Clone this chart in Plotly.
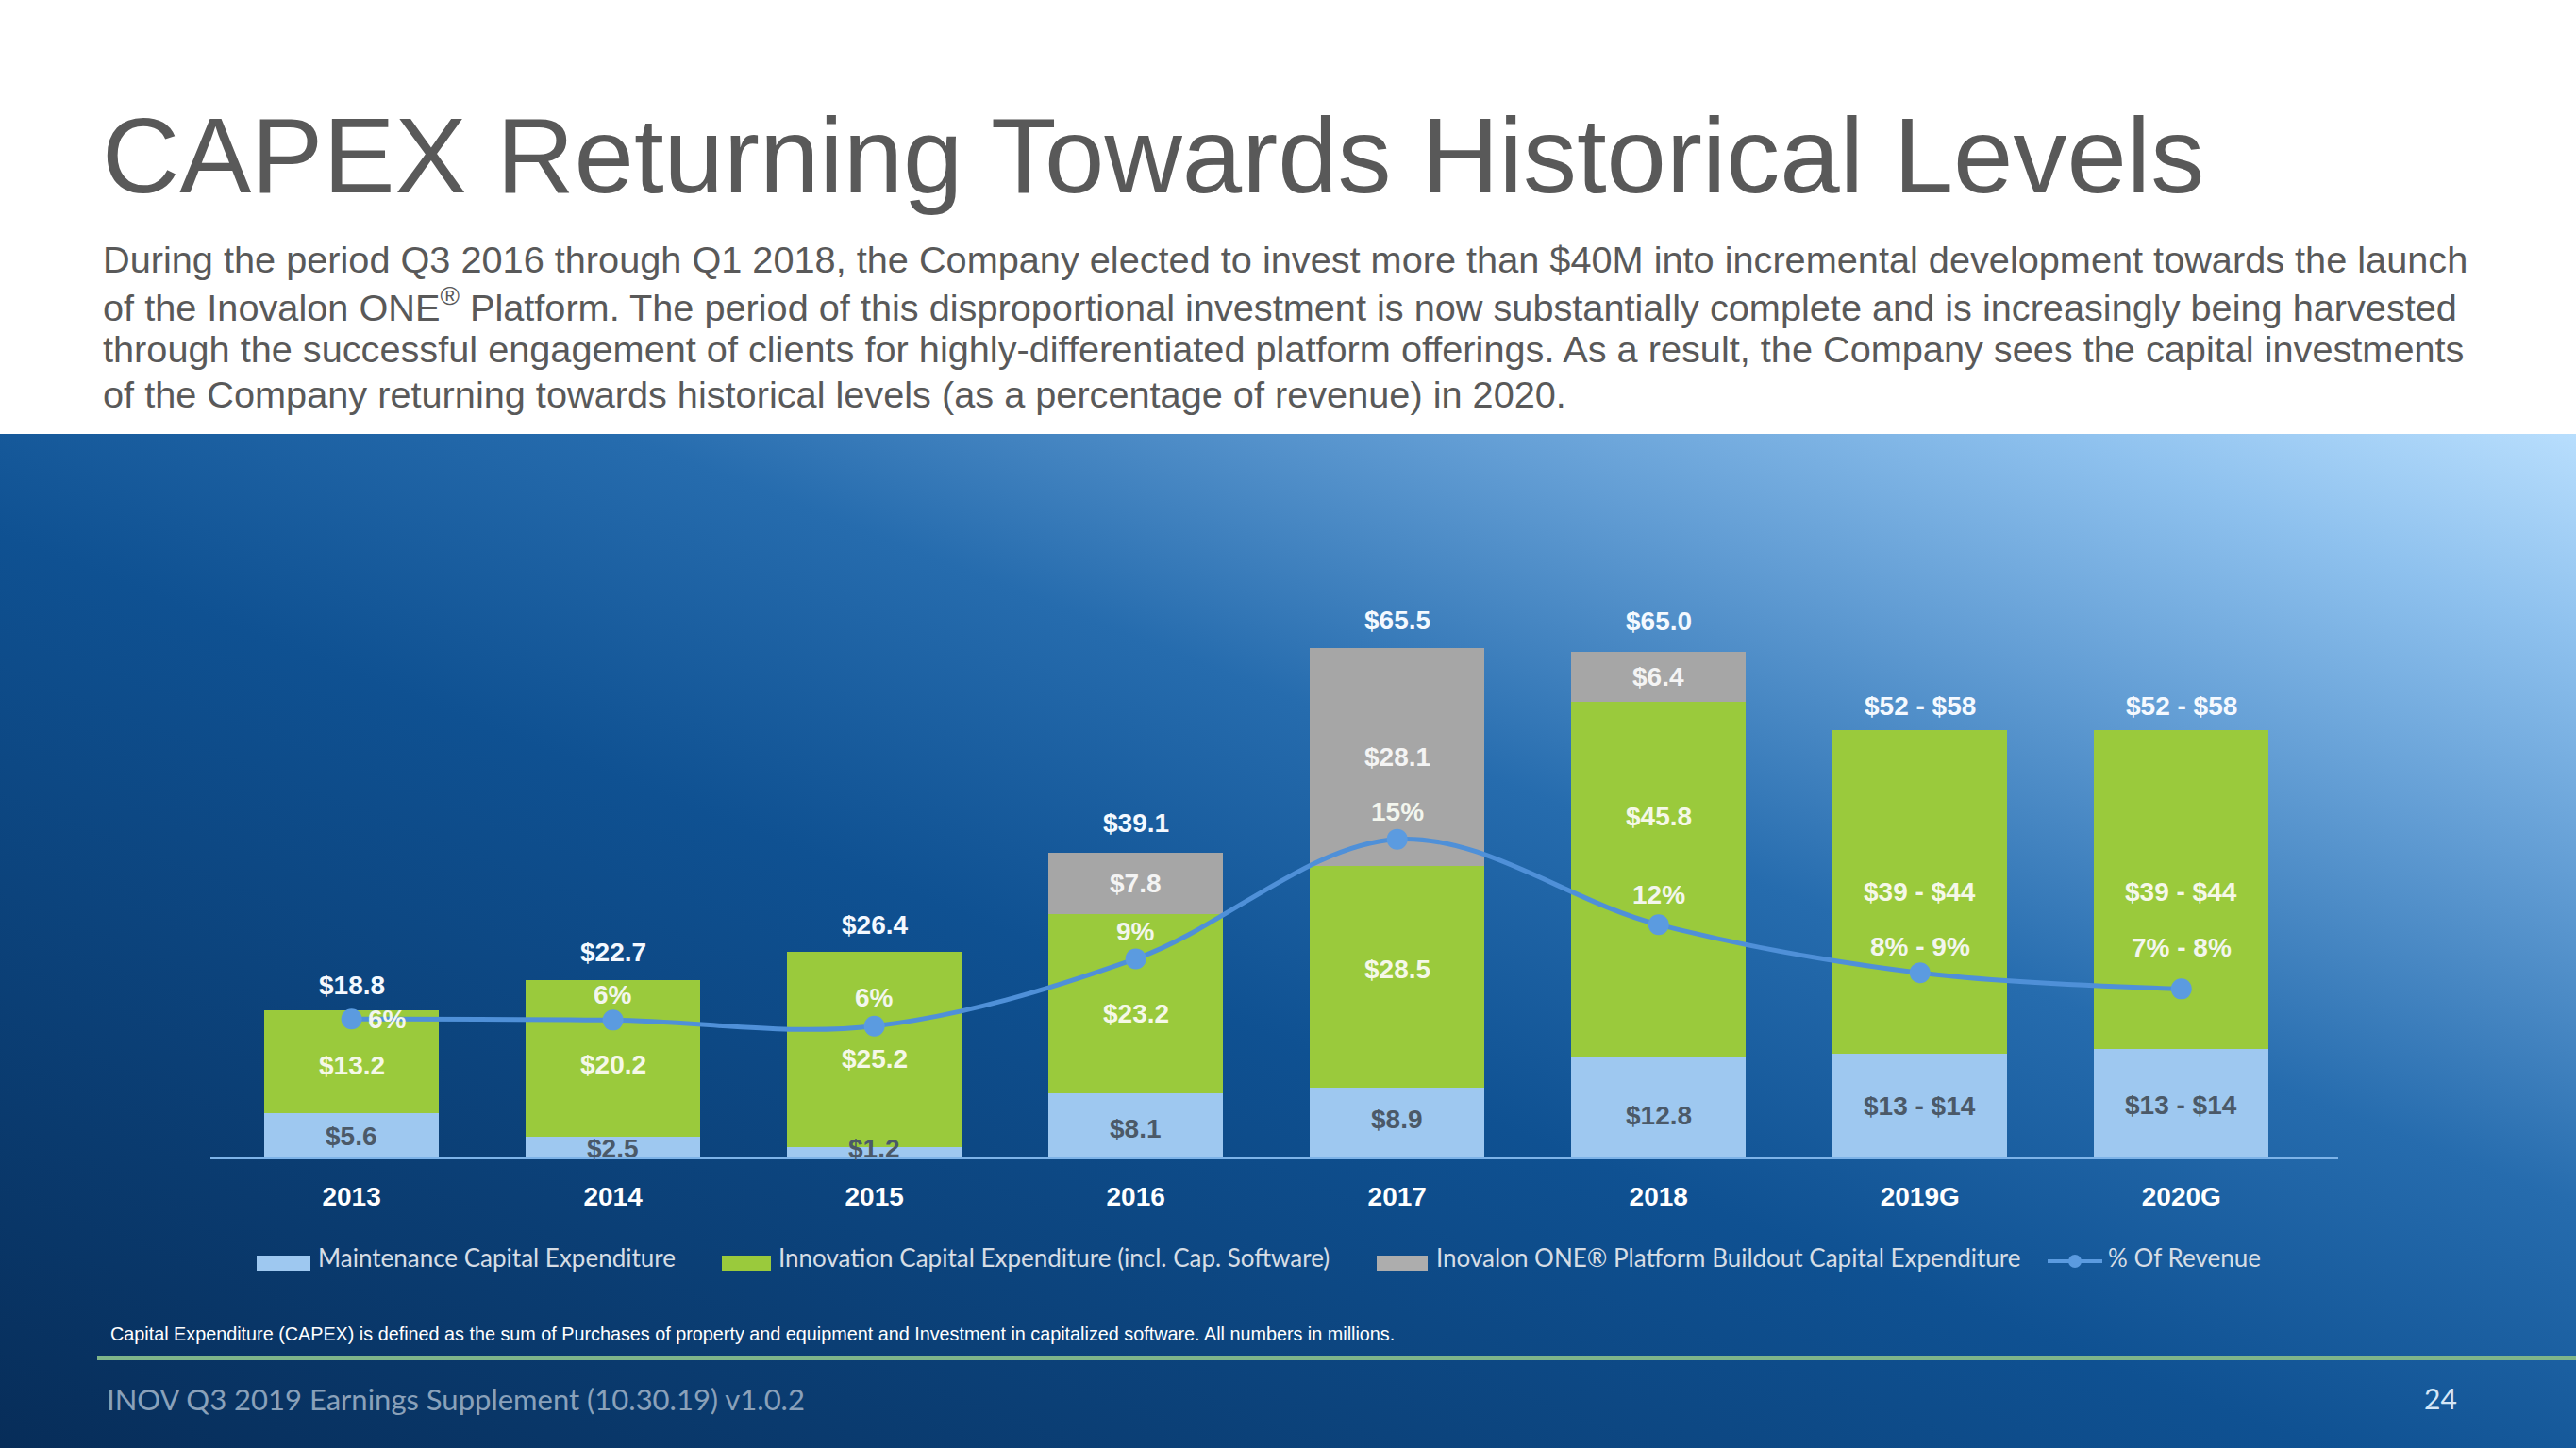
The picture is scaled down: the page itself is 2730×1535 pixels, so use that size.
import base64
import plotly.graph_objects as go

# ---------------- data ----------------
years = ["2013", "2014", "2015", "2016", "2017", "2018", "2019G", "2020G"]
maintenance = [5.6, 2.5, 1.2, 8.1, 8.9, 12.8, 13.3, 13.9]
innovation = [13.2, 20.2, 25.2, 23.2, 28.5, 45.8, 41.7, 41.1]
platform = [None, None, None, 7.8, 28.1, 6.4, None, None]
pct_revenue = [5.9, 5.85, 5.55, 8.9, 14.85, 10.6, 8.2, 7.4]

total_labels = ["$18.8", "$22.7", "$26.4", "$39.1", "$65.5", "$65.0", "$52 - $58", "$52 - $58"]
maint_labels = ["$5.6", "$2.5", "$1.2", "$8.1", "$8.9", "$12.8", "$13 - $14", "$13 - $14"]
innov_labels = ["$13.2", "$20.2", "$25.2", "$23.2", "$28.5", "$45.8", "$39 - $44", "$39 - $44"]
platform_labels = ["", "", "", "$7.8", "$28.1", "$6.4", "", ""]
pct_labels = ["6%", "6%", "6%", "9%", "15%", "12%", "8% - 9%", "7% - 8%"]

series_names = ["Maintenance Capital Expenditure",
                "Innovation Capital Expenditure (incl. Cap. Software)",
                "Inovalon ONE® Platform Buildout Capital Expenditure",
                "% Of Revenue"]

# label nudges (pixels) as placed on the original slide
total_nudge = [27, 30, 28, 32, 30, 33, 25, 25]
innov_nudge = [-4, -6, -10, -11, 8, 67, 0, -3]
maint_nudge = [-2, -2, 4, -4, 3, -9, -1, -3]
pct_nudge = [0, 27, 30, 29, 29, 32, 28, 44]

# ---------------- styling ----------------
W, H = 2730, 1535
ML, MR, MT, MB = 223, 252, 568, 309
PW, PH = W - ML - MR, H - MT - MB
BASE_Y = H - MB

GREEN = "#9ACA3C"
GRAY = "#A6A6A6"
MAINT = "#9EC8F0"
LINE = "#4F90D8"
ARIAL = "Liberation Sans, Arial, sans-serif"
CAL = "Lato, Open Sans, sans-serif"


def px_x(X):
    return (X - ML) / PW


def px_y(Y):
    return (BASE_Y - Y) / PH


fig = go.Figure()
fig.add_trace(go.Bar(x=years, y=maintenance, name=series_names[0],
                     marker=dict(color=MAINT, line=dict(width=0)), width=0.668))
fig.add_trace(go.Bar(x=years, y=innovation, name=series_names[1],
                     marker=dict(color=GREEN, line=dict(width=0)), width=0.668))
fig.add_trace(go.Bar(x=years, y=platform, name=series_names[2],
                     marker=dict(color=GRAY, line=dict(width=0)), width=0.668))
fig.add_trace(go.Scatter(x=years, y=pct_revenue, name=series_names[3], yaxis="y2",
                         mode="lines+markers",
                         line=dict(color=LINE, width=5, shape="spline", smoothing=1),
                         marker=dict(color="#5B9BE0", size=22)))

ann = []
lab_font = dict(family=ARIAL, size=28)
for i, yr in enumerate(years):
    m = maintenance[i]
    g = innovation[i]
    p = platform[i] or 0
    tot = m + g + p
    ann.append(dict(x=i, y=tot, xref="x", yref="y", text="<b>%s</b>" % total_labels[i],
                    showarrow=False, yanchor="middle", yshift=total_nudge[i],
                    font=dict(lab_font, color="#F4F9FF")))
    ann.append(dict(x=i, y=m + g / 2, xref="x", yref="y", text="<b>%s</b>" % innov_labels[i],
                    showarrow=False, yanchor="middle", yshift=innov_nudge[i],
                    font=dict(lab_font, color="#F5F8E8")))
    ann.append(dict(x=i, y=m / 2, xref="x", yref="y", text="<b>%s</b>" % maint_labels[i],
                    showarrow=False, yanchor="middle", yshift=maint_nudge[i],
                    font=dict(lab_font, color="#4B5968")))
    if platform_labels[i]:
        ann.append(dict(x=i, y=m + g + p / 2, xref="x", yref="y", text="<b>%s</b>" % platform_labels[i],
                        showarrow=False, yanchor="middle",
                        font=dict(lab_font, color="#F4F4F4")))
    ann.append(dict(x=i, y=pct_revenue[i], xref="x", yref="y2", text="<b>%s</b>" % pct_labels[i],
                    showarrow=False, yanchor="middle", yshift=pct_nudge[i],
                    xshift=38 if i == 0 else 0,
                    font=dict(lab_font, color="#F3F6EE")))

# title and paragraph
ann.append(dict(x=px_x(106), y=px_y(164), xref="paper", yref="paper", xanchor="left", yanchor="middle",
                text="CAPEX Returning Towards Historical Levels", showarrow=False,
                font=dict(family=ARIAL, size=114, color="#595959")))
para = [
    "During the period Q3 2016 through Q1 2018, the Company elected to invest more than $40M into incremental development towards the launch",
    "of the Inovalon ONE<sup>®</sup> Platform. The period of this disproportional investment is now substantially complete and is increasingly being harvested",
    "through the successful engagement of clients for highly-differentiated platform offerings. As a result, the Company sees the capital investments",
    "of the Company returning towards historical levels (as a percentage of revenue) in 2020.",
]
para_y = [275, 323, 370, 418]
for t, yy in zip(para, para_y):
    ann.append(dict(x=px_x(107), y=px_y(yy), xref="paper", yref="paper", xanchor="left", yanchor="middle",
                    text=t, showarrow=False, font=dict(family=ARIAL, size=39.7, color="#595959")))

# custom legend
shapes = []
leg_y0, leg_y1 = 1331, 1347
leg_txt_y = 1333
swatches = [(272, 329, MAINT, 335), (765, 817, GREEN, 823), (1459, 1513, "#ADADAD", 1520)]
for k, (x0, x1, col, tx) in enumerate(swatches):
    shapes.append(dict(type="rect", xref="paper", yref="paper", x0=px_x(x0), x1=px_x(x1),
                       y0=px_y(leg_y1), y1=px_y(leg_y0), fillcolor=col, line=dict(width=0)))
    ann.append(dict(x=px_x(tx), y=px_y(leg_txt_y), xref="paper", yref="paper", xanchor="left",
                    yanchor="middle", text=series_names[k], showarrow=False,
                    font=dict(family=CAL, size=26, color="#D6DDE5")))
shapes.append(dict(type="line", xref="paper", yref="paper", x0=px_x(2170), x1=px_x(2228),
                   y0=px_y(1337), y1=px_y(1337), line=dict(color="#5B9BE0", width=4)))
shapes.append(dict(type="circle", xref="paper", yref="paper", x0=px_x(2192), x1=px_x(2206),
                   y0=px_y(1344), y1=px_y(1330), fillcolor="#5B9BE0", line=dict(width=0)))
ann.append(dict(x=px_x(2232), y=px_y(leg_txt_y), xref="paper", yref="paper", xanchor="left",
                yanchor="middle", text=series_names[3], showarrow=False,
                font=dict(family=CAL, size=26, color="#D6DDE5")))

# footnote, footer line, footer text, page number
ann.append(dict(x=px_x(115), y=px_y(1414), xref="paper", yref="paper", xanchor="left", yanchor="middle",
                text="Capital Expenditure (CAPEX) is defined as the sum of Purchases of property and equipment and Investment in capitalized software. All numbers in millions.",
                showarrow=False, font=dict(family=ARIAL, size=19.8, color="#FFFFFF")))
shapes.append(dict(type="line", xref="paper", yref="paper", x0=px_x(103), x1=px_x(2730),
                   y0=px_y(1440), y1=px_y(1440), line=dict(color="#7FB58A", width=4)))
ann.append(dict(x=px_x(111), y=px_y(1483), xref="paper", yref="paper", xanchor="left", yanchor="middle",
                text="INOV Q3 2019 Earnings Supplement (10.30.19) v1.0.2", showarrow=False,
                font=dict(family=CAL, size=31, color="#8AA1BA")))
ann.append(dict(x=px_x(2586), y=px_y(1482), xref="paper", yref="paper", xanchor="center", yanchor="middle",
                text="24", showarrow=False, font=dict(family=CAL, size=30, color="#D4E6F7")))

# gradient background (SVG)
GH = H - 460
svg = (
    '<svg xmlns="http://www.w3.org/2000/svg" width="%d" height="%d" viewBox="0 0 %d %d" preserveAspectRatio="none">'
    '<defs><linearGradient id="g" x1="0" y1="1" x2="1" y2="0">'
    '<stop offset="0" stop-color="#072d59"/>'
    '<stop offset="0.45" stop-color="#0f5192"/>'
    '<stop offset="0.62" stop-color="#266cae"/>'
    '<stop offset="0.78" stop-color="#629dd4"/>'
    '<stop offset="0.9" stop-color="#8ec1ee"/>'
    '<stop offset="1" stop-color="#b8defd"/>'
    '</linearGradient></defs>'
    '<rect width="%d" height="%d" fill="url(#g)"/></svg>' % (W, GH, W, GH, W, GH)
)
src = "data:image/svg+xml;base64," + base64.b64encode(svg.encode()).decode()

fig.update_layout(
    width=W, height=H,
    margin=dict(l=ML, r=MR, t=MT, b=MB, pad=0),
    paper_bgcolor="#FFFFFF", plot_bgcolor="rgba(0,0,0,0)",
    barmode="stack", showlegend=False,
    xaxis=dict(type="category", range=[-0.54, 7.6], showline=True, linecolor="#7DB3E8", linewidth=3,
               ticks="", showgrid=False, zeroline=False, ticklabelstandoff=15,
               tickfont=dict(family=ARIAL, size=28, color="#FFFFFF"),
               tickvals=years, ticktext=["<b>%s</b>" % y for y in years]),
    yaxis=dict(range=[0, 80], visible=False, showgrid=False),
    yaxis2=dict(range=[-0.94, 29.95], overlaying="y", visible=False, showgrid=False),
    annotations=ann,
    shapes=shapes,
    images=[dict(source=src, xref="paper", yref="paper", x=px_x(0), y=px_y(460),
                 sizex=W / PW, sizey=GH / PH, sizing="stretch", xanchor="left", yanchor="top",
                 layer="below")],
)

fig.write_html("out.html", config={"displayModeBar": False},
               post_script="document.body.style.margin='0px';document.body.style.overflow='hidden';")
